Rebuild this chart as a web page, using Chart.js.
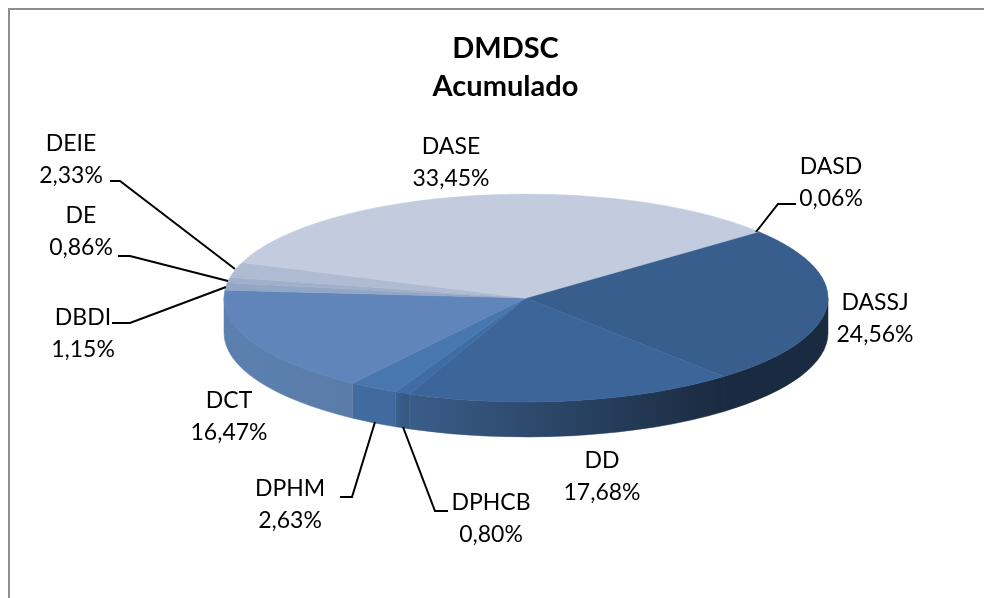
<!DOCTYPE html>
<html>
<head>
<meta charset="utf-8">
<style>html,body{margin:0;padding:0;background:#fff;overflow:hidden}canvas{display:block}</style>
<script src="https://cdn.jsdelivr.net/npm/chart.js@4"></script>
</head>
<body>
<canvas id="c" width="984" height="598"></canvas>
<script>
const titleLines = ['DMDSC', 'Acumulado'];
const categories = ['DASD', 'DASSJ', 'DD', 'DPHCB', 'DPHM', 'DCT', 'DBDI', 'DE', 'DEIE', 'DASE'];
const values = [0.06, 24.56, 17.68, 0.80, 2.63, 16.47, 1.15, 0.86, 2.33, 33.45];
const topColors = ['#375E8C', '#375E8C', '#3C6599', '#3F6CA3', '#4876AE', '#5F85BA', '#93A6C6', '#A0AFCB', '#AEBBD3', '#C2CCDE'];
const sideFrom = ['#1A2A40', '#1A2A40', '#1A2A40', '#35577F', '#40699E', '#5A7CA8', '#8898B5', '#8898B5', '#8898B5', '#A0AABB'];
const sideTo = ['#1A2A40', '#1A2A40', '#3A5D89', '#39608F', '#426C9F', '#5B80B0', '#8898B5', '#8898B5', '#8898B5', '#A0AABB'];

const labelSpots = {
  DASD: {x: 831, y: 167}, DASSJ: {x: 875, y: 303}, DD: {x: 602, y: 461}, DPHCB: {x: 491, y: 503},
  DPHM: {x: 290, y: 489}, DCT: {x: 229, y: 401}, DBDI: {x: 83, y: 318}, DE: {x: 81, y: 216},
  DEIE: {x: 71, y: 144}, DASE: {x: 451, y: 147}
};
const leaders = [
  [[796, 204], [778, 204], [756, 232]],
  [[110, 181], [120, 181], [235, 269]],
  [[118, 256], [130, 256], [228, 281]],
  [[112, 323], [130, 323], [226, 287]],
  [[340, 497], [352, 497], [375, 422]],
  [[448, 511], [435, 511], [403, 427]]
];
const view = {cx: 526, cy: 298, rx: 302, ry: 104, depth: 35};

const pie3d = {
  id: 'pie3d',
  beforeDraw(chart) {
    const ctx = chart.ctx;
    ctx.save();
    ctx.fillStyle = '#fff';
    ctx.fillRect(0, 0, chart.width, chart.height);
    ctx.strokeStyle = '#8E8E8E';
    ctx.lineWidth = 2;
    ctx.strokeRect(9, 9, chart.width + 20, chart.height + 20);
    ctx.restore();
  },
  beforeDatasetsDraw(chart) {
    const ctx = chart.ctx;
    const arcs = chart.getDatasetMeta(0).data;
    const R = arcs[0].outerRadius;
    const TAU = Math.PI * 2;
    ctx.save();
    arcs.forEach((arc, i) => {
      let a = arc.startAngle, b = arc.endAngle;
      while (a < 0) { a += TAU; b += TAU; }
      while (a >= TAU) { a -= TAU; b -= TAU; }
      [0, -TAU].forEach(shift => {
        const from = Math.max(a + shift, 0), to = Math.min(b + shift, Math.PI);
        if (to <= from) return;
        const x0 = view.cx + view.rx * Math.cos(from);
        const x1 = view.cx + view.rx * Math.cos(to);
        const g = ctx.createLinearGradient(x1, 0, x0, 0);
        g.addColorStop(0, sideTo[i]);
        g.addColorStop(1, sideFrom[i]);
        ctx.fillStyle = g;
        ctx.strokeStyle = g;
        ctx.lineWidth = 0.5;
        ctx.beginPath();
        ctx.ellipse(view.cx, view.cy, view.rx, view.ry, 0, from, to);
        ctx.ellipse(view.cx, view.cy + view.depth, view.rx, view.ry, 0, to, from, true);
        ctx.closePath();
        ctx.fill();
        ctx.stroke();
      });
    });
    ctx.restore();
    const c = arcs[0];
    ctx.save();
    ctx.translate(view.cx, view.cy);
    ctx.scale(view.rx / R, view.ry / R);
    ctx.translate(-c.x, -c.y);
  },
  afterDatasetsDraw(chart) {
    const ctx = chart.ctx;
    ctx.restore();
    ctx.save();
    ctx.strokeStyle = '#000';
    ctx.lineWidth = 2;
    ctx.lineJoin = 'miter';
    leaders.forEach(pts => {
      ctx.beginPath();
      pts.forEach((p, i) => i ? ctx.lineTo(p[0], p[1]) : ctx.moveTo(p[0], p[1]));
      ctx.stroke();
    });
    ctx.fillStyle = '#000';
    ctx.font = '23px Lato';
    ctx.textAlign = 'center';
    ctx.textBaseline = 'middle';
    categories.forEach((name, i) => {
      const s = labelSpots[name];
      ctx.fillText(name, s.x, s.y);
      ctx.fillText(values[i].toFixed(2).replace('.', ',') + '%', s.x, s.y + 32);
    });
    ctx.restore();
  }
};

new Chart(document.getElementById('c'), {
  type: 'pie',
  plugins: [pie3d],
  data: {
    labels: categories,
    datasets: [{
      data: values,
      backgroundColor: topColors,
      borderColor: topColors,
      borderWidth: 0.6,
      clip: false
    }]
  },
  options: {
    responsive: false,
    animation: false,
    rotation: 50.4,
    layout: {padding: {left: 27, right: 0, top: 10, bottom: 10}},
    plugins: {
      legend: {display: false},
      tooltip: {enabled: false},
      title: {
        display: true,
        text: titleLines,
        color: '#000',
        font: {family: 'Lato', size: 29, weight: 'bold', lineHeight: 1.31},
        padding: {top: 20, bottom: 10}
      }
    }
  }
});
</script>
</body>
</html>
